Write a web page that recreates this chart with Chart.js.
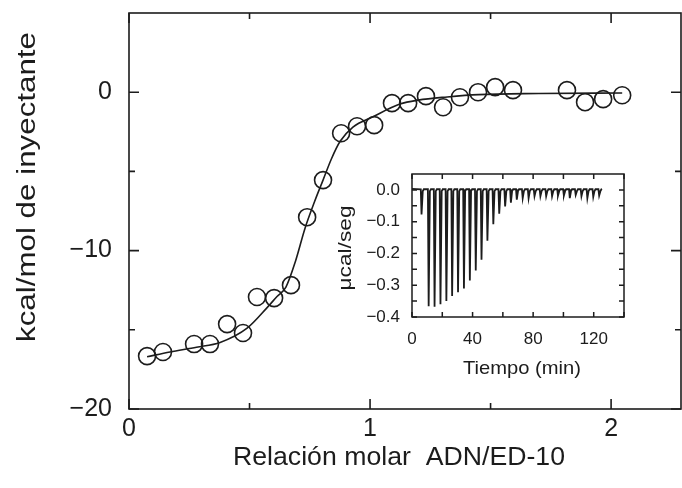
<!DOCTYPE html>
<html>
<head>
<meta charset="utf-8">
<script src="https://cdn.jsdelivr.net/npm/chart.js"></script>
<style>
  html, body { margin: 0; padding: 0; background: #fff; overflow: hidden; }
  #wrap { position: relative; width: 682px; height: 488px; }
  #main { position: absolute; left: 0; top: 0; }
  #inset { position: absolute; left: 320px; top: 160px; }
</style>
</head>
<body>
<div id="wrap">
  <canvas id="main" width="682" height="488"></canvas>
  <canvas id="inset" width="320" height="230"></canvas>
</div>
<script>
// main plot: integrated heats per injection
const molarRatio = [0.075, 0.141, 0.270, 0.336, 0.407, 0.473, 0.531, 0.602, 0.672, 0.739, 0.805, 0.880, 0.946,
                    1.017, 1.091, 1.158, 1.232, 1.303, 1.373, 1.448, 1.519, 1.593, 1.817, 1.892, 1.967, 2.046];
const heatKcal = [-16.66, -16.40, -15.90, -15.90, -14.64, -15.20, -12.93, -13.00, -12.18, -7.89, -5.55, -2.59, -2.15,
                  -2.08, -0.69, -0.69, -0.25, -0.95, -0.32, 0.00, 0.32, 0.13, 0.13, -0.63, -0.44, -0.19];

// fitted curve
const fitX = [0.075, 0.17, 0.28, 0.378, 0.49, 0.573, 0.614, 0.651, 0.69, 0.73, 0.77, 0.805, 0.84, 0.876,
              0.929, 1.012, 1.124, 1.2, 1.32, 1.45, 1.7, 2.046];
const fitY = [-16.7, -16.4, -16.1, -15.8, -14.9, -13.6, -12.9, -12.3, -10.7, -8.6, -6.9, -5.55, -4.2, -3.1,
              -2.2, -1.55, -0.75, -0.5, -0.3, -0.15, -0.08, -0.05];

// inset: raw thermogram, injection times (min) and peak depths (ucal/s)
const injTime = [6.0, 10.7, 14.6, 18.5, 22.4, 26.2, 30.1, 34.0, 37.9, 41.8, 45.6, 49.5, 53.4, 57.3, 61.2, 65.0,
                 68.9, 72.8, 76.7, 80.6, 84.5, 88.3, 92.2, 96.1, 100.0, 103.9, 107.8, 111.6, 115.5, 119.4, 123.3];
const injPeak = [-0.077, -0.366, -0.368, -0.360, -0.350, -0.334, -0.322, -0.310, -0.285, -0.254, -0.220, -0.160,
                 -0.108, -0.075, -0.052, -0.040, -0.031, -0.026, -0.026, -0.020, -0.020, -0.020, -0.020, -0.018,
                 -0.018, -0.026, -0.016, -0.020, -0.026, -0.022, -0.018];

// tick values
const mainXLabels = [0, 1, 2];
const mainXMinor = [0.5, 1.5];
const mainYLabels = [-20, -10, 0];
const mainYMinor = [-15, -5];
const insetXLabels = [0, 40, 80, 120];
const insetXMinor = [20, 60, 100, 140];
const insetYLabels = [-0.4, -0.3, -0.2, -0.1, 0];
const insetYMinor = [-0.35, -0.25, -0.15, -0.05];

const ink = '#1c1c1c';
const fam = '"Liberation Sans", Arial, Helvetica, sans-serif';

// box + inward ticks on all four sides
const framePlugin = {
  id: 'frame',
  afterDatasetsDraw(chart, args, o) {
    const { ctx, chartArea: a, scales: { x, y } } = chart;
    ctx.save();
    ctx.strokeStyle = ink;
    ctx.lineWidth = o.lw;
    ctx.strokeRect(a.left, a.top, a.right - a.left, a.bottom - a.top);
    ctx.beginPath();
    const xt = (vals, len) => vals.forEach(v => {
      const p = x.getPixelForValue(v);
      ctx.moveTo(p, a.bottom); ctx.lineTo(p, a.bottom - len);
      ctx.moveTo(p, a.top); ctx.lineTo(p, a.top + len);
    });
    const yt = (vals, len) => vals.forEach(v => {
      const p = y.getPixelForValue(v);
      ctx.moveTo(a.left, p); ctx.lineTo(a.left + len, p);
      ctx.moveTo(a.right, p); ctx.lineTo(a.right - len, p);
    });
    xt(o.xMajor, o.major); xt(o.xMinor, o.minor);
    yt(o.yMajor, o.major); yt(o.yMinor, o.minor);
    ctx.stroke();
    ctx.restore();
  }
};

// axis titles placed like the original figure
const titlePlugin = {
  id: 'titles',
  afterDraw(chart, args, o) {
    const ctx = chart.ctx;
    o.items.forEach(t => {
      ctx.save();
      ctx.font = t.font;
      ctx.fillStyle = ink;
      ctx.textAlign = 'center';
      ctx.textBaseline = 'middle';
      ctx.translate(t.x, t.y);
      if (t.rot) ctx.rotate(-Math.PI / 2);
      if (t.len) ctx.scale(t.len / ctx.measureText(t.text).width, 1);
      ctx.fillText(t.text, 0, 0);
      ctx.restore();
    });
  }
};

const minus = v => (v < 0 ? '\u2212' : '');
// keep the plot box exactly where layout.padding puts it
const noPad = s => { s.paddingTop = 0; s.paddingBottom = 0; s.paddingLeft = 0; s.paddingRight = 0; };

new Chart(document.getElementById('main'), {
  type: 'scatter',
  data: {
    datasets: [
      {
        data: molarRatio.map((v, i) => ({ x: v, y: heatKcal[i] })),
        showLine: false,
        pointRadius: 8.5,
        pointBorderWidth: 1.6,
        pointBorderColor: ink,
        pointBackgroundColor: 'rgba(0,0,0,0)'
      },
      {
        type: 'line',
        data: fitX.map((v, i) => ({ x: v, y: fitY[i] })),
        borderColor: ink,
        borderWidth: 1.6,
        pointRadius: 0,
        cubicInterpolationMode: 'monotone',
        fill: false
      }
    ]
  },
  options: {
    responsive: false,
    animation: false,
    events: [],
    layout: { autoPadding: false, padding: { left: 0, top: 13, right: 1, bottom: 0 } },
    plugins: {
      legend: { display: false },
      tooltip: { enabled: false },
      frame: { lw: 1.6, major: 10, minor: 6, xMajor: mainXLabels, xMinor: mainXMinor, yMajor: mainYLabels, yMinor: mainYMinor },
      titles: {
        items: [
          { text: 'Relación molar  ADN/ED-10', x: 399, y: 458, font: '26px ' + fam, len: 332 },
          { text: 'kcal/mol de inyectante', x: 28, y: 187, rot: true, font: '26px ' + fam, len: 310 }
        ]
      }
    },
    scales: {
      x: {
        type: 'linear', min: 0, max: 2.29,
        afterBuildTicks: s => { s.ticks = mainXLabels.map(v => ({ value: v })); },
        afterFit: s => { s.height = 79; noPad(s); },
        grid: { display: false, drawTicks: false },
        border: { display: false },
        ticks: { padding: 5, color: ink, font: { family: fam, size: 25 }, maxRotation: 0, autoSkip: false,
                 callback: v => String(v) }
      },
      y: {
        type: 'linear', min: -20, max: 5,
        afterBuildTicks: s => { s.ticks = mainYLabels.map(v => ({ value: v })); },
        afterFit: s => { s.width = 129; noPad(s); },
        grid: { display: false, drawTicks: false },
        border: { display: false },
        ticks: { padding: 17, color: ink, font: { family: fam, size: 25 }, autoSkip: false,
                 callback: v => minus(v) + Math.abs(v) }
      }
    }
  },
  plugins: [framePlugin, titlePlugin]
});

// thermogram polyline built from the injection table
const trace = [{ x: 0, y: 0.003 }];
injTime.forEach((t, i) => {
  trace.push({ x: t - 0.2, y: 0.002 }, { x: t + 0.3, y: injPeak[i] }, { x: t + 1.1, y: -0.004 }, { x: t + 1.8, y: 0.002 });
});
trace.push({ x: 125.5, y: 0.003 });

new Chart(document.getElementById('inset'), {
  type: 'scatter',
  data: {
    datasets: [{
      type: 'line',
      data: trace,
      borderColor: ink,
      borderWidth: 1.8,
      pointRadius: 0,
      tension: 0,
      fill: false
    }]
  },
  options: {
    responsive: false,
    animation: false,
    events: [],
    layout: { autoPadding: false, padding: { left: 0, top: 14, right: 16, bottom: 0 } },
    plugins: {
      legend: { display: false },
      tooltip: { enabled: false },
      frame: { lw: 1.5, major: 5, minor: 5, xMajor: insetXLabels, xMinor: insetXMinor, yMajor: insetYLabels, yMinor: insetYMinor },
      titles: {
        items: [
          { text: 'Tiempo (min)', x: 202, y: 209, font: '19px ' + fam, len: 118 },
          { text: '\u03bccal/seg', x: 26, y: 88, rot: true, font: '19px ' + fam, len: 85 }
        ]
      }
    },
    scales: {
      x: {
        type: 'linear', min: 0, max: 140,
        afterBuildTicks: s => { s.ticks = insetXLabels.map(v => ({ value: v })); },
        afterFit: s => { s.height = 73; noPad(s); },
        grid: { display: false, drawTicks: false },
        border: { display: false },
        ticks: { padding: 12, color: ink, font: { family: fam, size: 17 }, maxRotation: 0, autoSkip: false,
                 callback: v => String(v) }
      },
      y: {
        type: 'linear', min: -0.4, max: 0.05,
        afterBuildTicks: s => { s.ticks = insetYLabels.map(v => ({ value: v })); },
        afterFit: s => { s.width = 92; noPad(s); },
        grid: { display: false, drawTicks: false },
        border: { display: false },
        ticks: { padding: 12, color: ink, font: { family: fam, size: 17 }, autoSkip: false,
                 callback: v => minus(v) + Math.abs(v).toFixed(1) }
      }
    }
  },
  plugins: [framePlugin, titlePlugin]
});
</script>
</body>
</html>
